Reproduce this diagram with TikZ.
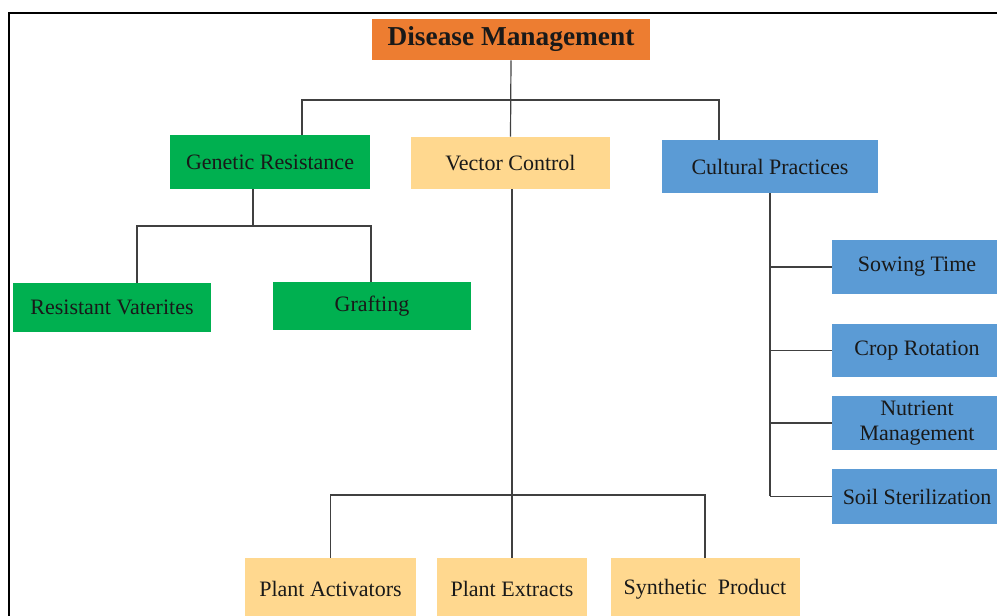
\documentclass[tikz,border=0pt]{standalone}
\usepackage{fontspec}
\setmainfont{Liberation Serif}
\usepackage{tikz}
\usetikzlibrary{positioning}
\definecolor{rootorange}{RGB}{237, 125, 49}
\definecolor{leafgreen}{RGB}{0, 176, 80}
\definecolor{paleorange}{RGB}{255, 216, 143}
\definecolor{skyblue}{RGB}{91, 155, 213}
\tikzset{
    basebox/.style={rectangle, inner sep=0pt, align=center, text=black!90, font=\fontsize{16.5}{19}\selectfont},
    rootbox/.style={basebox, fill=rootorange, minimum width=208.5pt, minimum height=30.75pt, font=\fontsize{20.5}{24}\selectfont\bfseries},
    greenbox/.style={basebox, fill=leafgreen, minimum width=148pt, minimum height=38pt},
    yellowbox/.style={basebox, fill=paleorange, minimum height=46.5pt},
    bluebox/.style={basebox, fill=skyblue, minimum width=127.5pt, minimum height=40.5pt},
    link/.style={draw=black!75, line width=0.9pt},
}
\begin{document}
\begin{tikzpicture}[x=0.75pt, y=-0.75pt]
  \useasboundingbox (0,0) rectangle (997,616);
  % frame
  \draw[line width=1.5pt] (8.5,616) -- (8.5,13) -- (997,13);

  % top level
  \node[rootbox]                                        (DM) at (511,39.5)  {Disease Management};
  \node[greenbox, minimum width=150pt, minimum height=40.5pt] (GR) at (270,162)   {Genetic Resistance};
  \node[yellowbox, minimum width=149.25pt, minimum height=39pt] (VC) at (510.5,163) {Vector Control};
  \node[bluebox, minimum width=162pt, minimum height=39.75pt] (CP) at (770,166.5) {Cultural Practices};

  % genetic resistance
  \node[greenbox, minimum height=36.75pt] (RV) at (112,307.5) {Resistant Vaterites};
  \node[greenbox, minimum height=36pt]    (GF) at (372,306)   {Grafting};

  % cultural practices
  \node[bluebox]                       (ST) at (917,267)   {Sowing Time};
  \node[bluebox, minimum height=39.75pt] (CR) at (917,350.5) {Crop Rotation};
  \node[bluebox]                       (NM) at (917,423)   {Nutrient\\Management};
  \node[bluebox, minimum height=41.25pt] (SS) at (917,496.5) {Soil Sterilization};

  % vector control
  \node[yellowbox, minimum width=128.25pt] (PA) at (330.5,589) {Plant Activators};
  \node[yellowbox, minimum width=112.5pt]  (PE) at (512,589)   {Plant Extracts};
  \node[yellowbox, minimum width=141.75pt] (SP) at (705,589)   {Synthetic\ \ Product};

  % bus points
  \coordinate (busL) at (302,100);
  \coordinate (busR) at (719,100);
  \coordinate (grMid) at (253,226);
  \coordinate (rvBus) at (137,226);
  \coordinate (gfBus) at (371,226);
  \coordinate (vcBus) at (512,495);
  \coordinate (cpSpine) at (770,497);

  \draw[link] (DM.south) -- (VC.north);
  \draw[link] (busL |- GR.north) -- (busL) -- (busR) -- (busR |- CP.north);

  \draw[link] (grMid |- GR.south) -- (grMid);
  \draw[link] (rvBus |- RV.north) -- (rvBus) -- (gfBus) -- (gfBus |- GF.north);

  \draw[link] (vcBus |- VC.south) -- (PE.north);
  \draw[link] (PA.north) -- (PA.north |- vcBus) -- (SP.north |- vcBus) -- (SP.north);

  \draw[link] (CP.south) -- (cpSpine |- SS.west);
  \foreach \leaf in {ST, CR, NM, SS}
    \draw[link] (cpSpine |- \leaf.west) -- (\leaf.west);
\end{tikzpicture}
\end{document}
